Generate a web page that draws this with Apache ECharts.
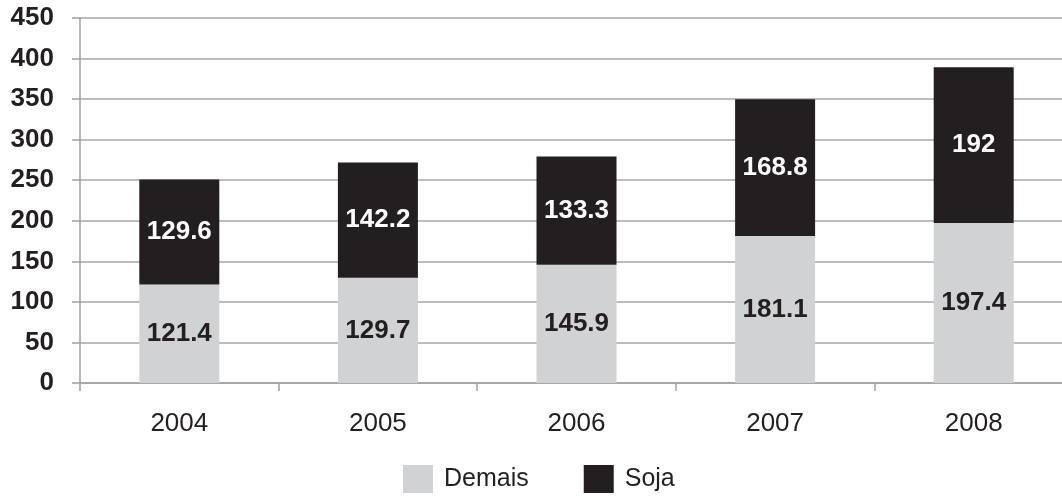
<!DOCTYPE html>
<html>
<head>
<meta charset="utf-8">
<script src="https://cdn.jsdelivr.net/npm/echarts@6/dist/echarts.min.js"></script>
<style>html,body{margin:0;padding:0;background:#fff;overflow:hidden;width:1062px;height:502px}#c{width:1090px;height:502px}</style>
</head>
<body>
<div id="c"></div>
<script>
const years = ['2004', '2005', '2006', '2007', '2008'];
const demais = [121.4, 129.7, 145.9, 181.1, 197.4];
const soja = [129.6, 142.2, 133.3, 168.8, 192];
const yTicks = { min: 0, max: 450, interval: 50 };

const chart = echarts.init(document.getElementById('c'), null, { renderer: 'canvas' });
const font = 'Liberation Sans, Arial, Helvetica, sans-serif';
const labelStyle = (color) => ({
  show: true, position: 'inside', color: color,
  fontFamily: font, fontWeight: 'bold', fontSize: 26
});
chart.setOption({
  animation: false,
  backgroundColor: '#ffffff',
  grid: { left: 80, top: 18, bottom: 119, width: 993, containLabel: false },
  legend: {
    bottom: 4, left: 398,
    itemWidth: 30, itemHeight: 28, itemGap: 55,
    icon: 'rect',
    textStyle: { fontFamily: font, fontSize: 25, color: '#231f20', padding: [0, 0, 0, 6] },
    data: ['Demais', 'Soja']
  },
  xAxis: {
    type: 'category', data: years,
    axisLine: { lineStyle: { color: '#a0a0a0', width: 1.5 } },
    axisTick: { show: true, length: 8, alignWithLabel: false, lineStyle: { color: '#a0a0a0', width: 1.5 } },
    axisLabel: { fontFamily: font, fontSize: 26, color: '#231f20', margin: 28 }
  },
  yAxis: {
    type: 'value', min: yTicks.min, max: yTicks.max, interval: yTicks.interval,
    axisLine: { show: true, lineStyle: { color: '#a0a0a0', width: 1.5 } },
    axisTick: { show: true, length: 8, lineStyle: { color: '#a0a0a0', width: 1.5 } },
    splitLine: { lineStyle: { color: '#a7a7a7', width: 1.5 } },
    axisLabel: { fontFamily: font, fontSize: 26, fontWeight: 'bold', color: '#231f20', margin: 26 }
  },
  series: [
    { name: 'Demais', type: 'bar', stack: 't', data: demais, barWidth: 80,
      itemStyle: { color: '#d1d2d4' }, label: labelStyle('#231f20') },
    { name: 'Soja', type: 'bar', stack: 't', data: soja, barWidth: 80,
      itemStyle: { color: '#231f20' }, label: labelStyle('#ffffff') }
  ]
});
</script>
</body>
</html>
